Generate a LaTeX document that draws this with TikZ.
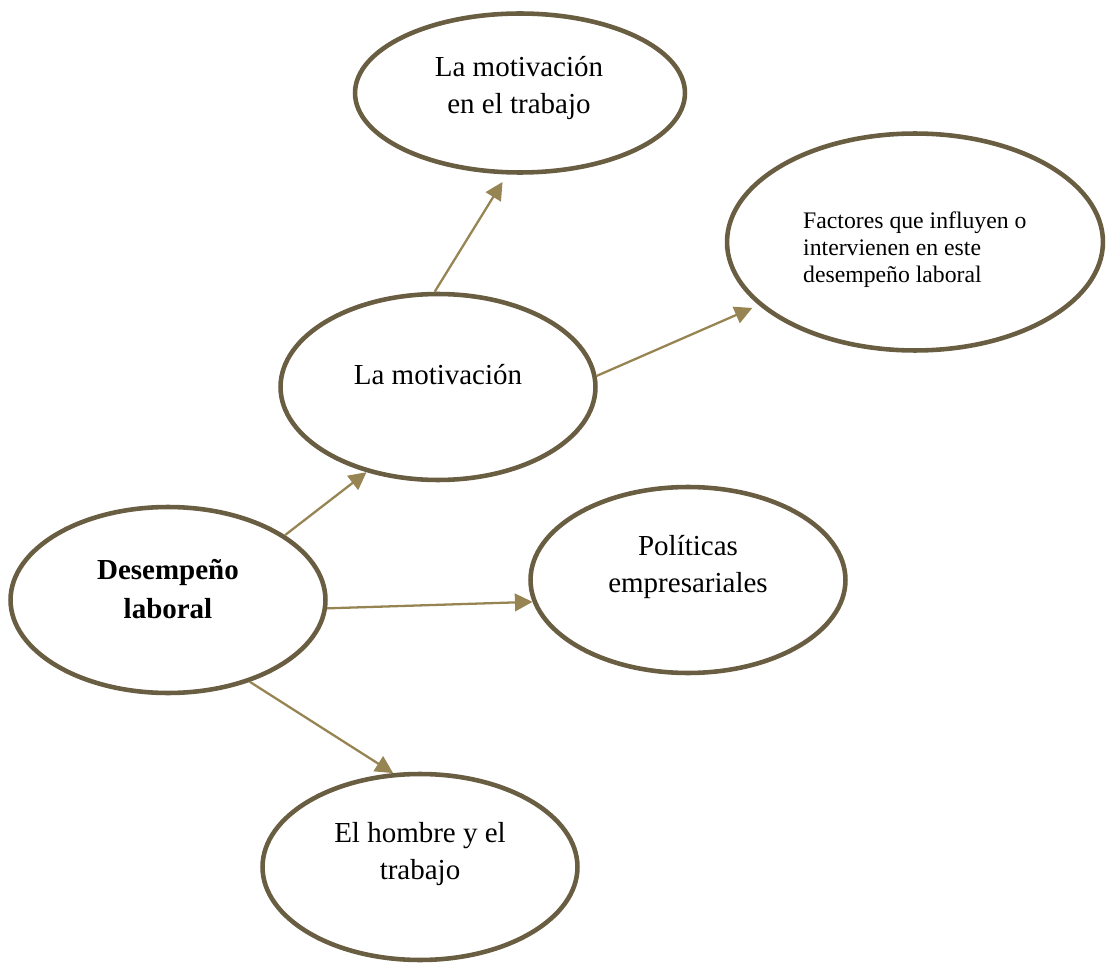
\documentclass[tikz,border=0pt]{standalone}
\usepackage{fontspec}
\setmainfont{Liberation Serif}
\usetikzlibrary{shapes.geometric,arrows.meta}
\definecolor{borde}{RGB}{105,93,66}
\definecolor{flecha}{RGB}{150,132,82}

\begin{document}
\begin{tikzpicture}[x=0.02cm,y=-0.02cm,
    burbuja/.style={draw=borde,line width=2.6pt,ellipse,inner sep=0pt},
    texto/.style={align=center,font=\fontsize{16.5}{21}\selectfont},
    enlace/.style={draw=flecha,line width=1.3pt,-{Triangle[length=10pt,width=10pt]}}]
            \useasboundingbox (0,0) rectangle (1107,963);
            % elipses
            \node[burbuja,minimum width=6.6cm,minimum height=3.18cm] (trab) at (520,93) {};
            \node[burbuja,minimum width=7.52cm,minimum height=4.34cm] (fact) at (915,242) {};
            \node[burbuja,minimum width=6.3cm,minimum height=3.72cm] (mot) at (438,387) {};
            \node[burbuja,minimum width=6.3cm,minimum height=3.72cm] (des) at (168,600) {};
            \node[burbuja,minimum width=6.3cm,minimum height=3.72cm] (pol) at (688,580) {};
            \node[burbuja,minimum width=6.3cm,minimum height=3.72cm] (hom) at (420,867) {};
            % textos
            \node[texto] (ttrab) at (519,88) {La motivación\\en el trabajo};
            \node[align=left,anchor=west,font=\fontsize{13.5}{15.3}\selectfont] (tfact) at (797,250) {Factores que influyen o\\intervienen en este\\desempeño laboral};
            \node[texto] (tmot) at (438,375) {La motivación};
            \node[texto,font=\fontsize{16.5}{22.5}\selectfont\bfseries] (tdes) at (168,589) {Desempeño\\laboral};
            \node[texto] (tpol) at (688,567) {Políticas\\empresariales};
            \node[texto] (thom) at (420,854) {El hombre y el\\trabajo};
            % flechas
            \draw[enlace,shorten >=5pt] (mot.92) -- (trab.261);
            \draw[enlace,shorten >=4pt] (mot.4) -- (fact.202);
            \draw[enlace] (des.29) -- (mot.230);
            \draw[enlace] (des.-3) -- (pol.188);
            \draw[enlace] (des.-45) -- (hom.106);
        \end{tikzpicture}
\end{document}
